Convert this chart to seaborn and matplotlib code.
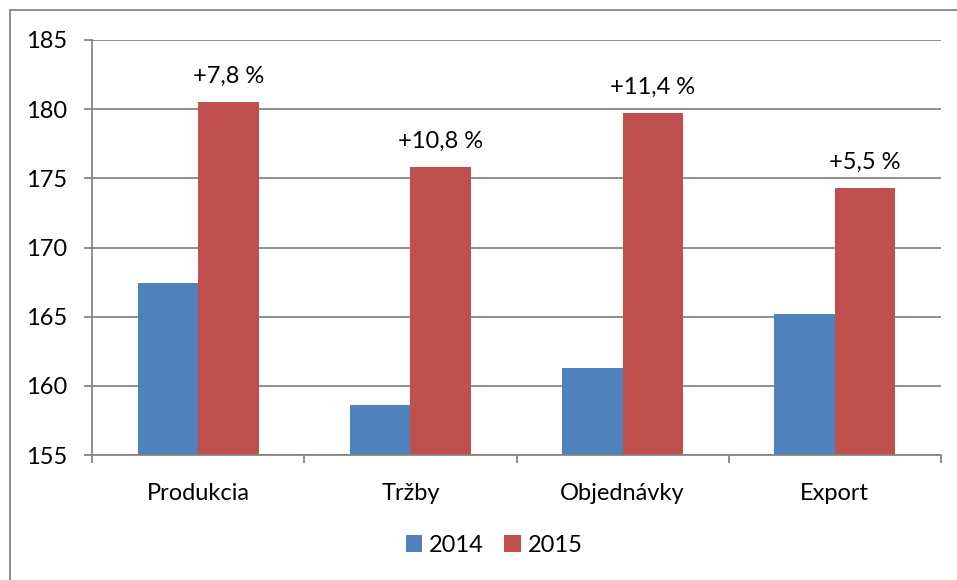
import matplotlib
matplotlib.use("Agg")
import matplotlib.pyplot as plt
from matplotlib.patches import Rectangle
import pandas as pd
import seaborn as sns

categories = ["Produkcia", "Tržby", "Objednávky", "Export"]
values_2014 = [167.4, 158.6, 161.3, 165.2]
values_2015 = [180.5, 175.8, 179.7, 174.3]
growth_labels = ["+7,8 %", "+10,8 %", "+11,4 %", "+5,5 %"]
years = ["2014", "2015"]

BLUE = "#4F81BD"
RED = "#C0504D"
GRID = "#868686"
FS = 17

df = pd.DataFrame({
    "kategoria": categories * 2,
    "rok": [years[0]] * len(categories) + [years[1]] * len(categories),
    "hodnota": values_2014 + values_2015,
})

sns.set_theme(style="white")
plt.rcParams["font.family"] = ["Lato", "DejaVu Sans"]
plt.rcParams["text.color"] = "black"
plt.rcParams["xtick.color"] = "black"
plt.rcParams["ytick.color"] = "black"

fig = plt.figure(figsize=(9.57, 5.8), dpi=100)
ax = fig.add_axes([92 / 957, 1 - 455 / 580, (941 - 92) / 957, (455 - 40) / 580])

sns.barplot(data=df, x="kategoria", y="hodnota", hue="rok",
            palette=[BLUE, RED], width=0.571, gap=0, linewidth=0,
            saturation=1, ax=ax)

ax.set_ylim(155, 185)
ax.set_xlim(-0.5, len(categories) - 0.5)
ax.set_yticks(range(155, 186, 5))
ax.yaxis.grid(True, color=GRID, linewidth=1.3)
ax.set_axisbelow(True)
ax.set_xlabel("")
ax.set_ylabel("")

for side in ["top", "right"]:
    ax.spines[side].set_visible(False)
for side in ["left", "bottom"]:
    ax.spines[side].set_color(GRID)
    ax.spines[side].set_linewidth(1.3)

ax.tick_params(axis="y", length=6, width=1.3, color=GRID, labelsize=FS, pad=12,
               left=True, labelcolor="black")
ax.tick_params(axis="x", which="major", length=0, labelsize=FS, pad=20,
               labelcolor="black")
ax.set_xticks([i - 0.5 for i in range(len(categories) + 1)], minor=True)
ax.tick_params(axis="x", which="minor", length=6, width=1.3, color=GRID, bottom=True)

# growth labels above the 2015 bars
for bar, label in zip(ax.containers[1], growth_labels):
    ax.annotate(label, (bar.get_x() + bar.get_width() / 2, bar.get_height()),
                xytext=(0, 11), textcoords="offset points",
                ha="center", va="bottom", fontsize=FS, color="black",
                annotation_clip=False)

ax.legend(title=None, loc="center", bbox_to_anchor=(494 / 957, 1 - 545 / 580),
          bbox_transform=fig.transFigure, ncol=2, frameon=False, fontsize=FS,
          handlelength=0.7, handleheight=0.7, handletextpad=0.3, columnspacing=0.85,
          labelcolor="black")

# outer chart-area frame
fig.patches.append(Rectangle((10 / 957, -0.1), 1.2, 1 - 10 / 580 + 0.1,
                             transform=fig.transFigure, fill=False,
                             edgecolor=GRID, linewidth=1.3))

fig.savefig("out.png", dpi=100)
